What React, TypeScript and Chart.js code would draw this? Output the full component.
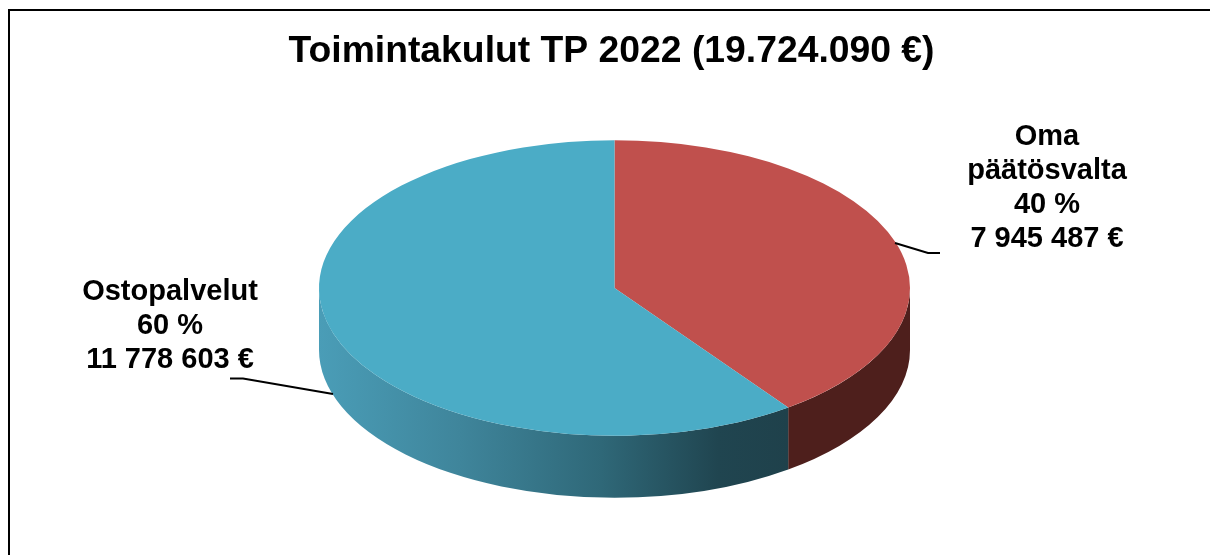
import React, { useEffect, useRef } from "react";
import { Chart, registerables } from "chart.js";

Chart.register(...registerables);

const categories = ["Oma päätösvalta", "Ostopalvelut"];
const percents = [40, 60];
const percentLabels = ["40 %", "60 %"];
const valueLabels = ["7 945 487 €", "11 778 603 €"];
const titleText = "Toimintakulut TP 2022 (19.724.090 €)";
const topColors = ["#C0504D", "#4BACC6"];

const FONT = '"Liberation Sans", Arial, sans-serif';
const CX = 614.5;
const CY = 288;
const RX = 295.5;
const SQUASH = 0.5;
const DEPTH = 62;

const sidesAndFrame = {
  id: "sidesAndFrame",
  beforeDatasetsDraw(chart: any) {
    const { ctx } = chart;
    ctx.save();
    ctx.fillStyle = "#000";
    ctx.fillRect(8, 9, 1202, 2);
    ctx.fillRect(8, 9, 2, 546);
    ctx.restore();

    const arcs = chart.getDatasetMeta(0).data;
    const ry = RX * SQUASH;
    arcs.forEach((arc: any, i: number) => {
      const a = Math.max(arc.startAngle, 0);
      const b = Math.min(arc.endAngle, Math.PI);
      if (b <= a) return;
      ctx.save();
      ctx.beginPath();
      ctx.ellipse(CX, CY, RX, ry, 0, a, b);
      ctx.ellipse(CX, CY + DEPTH, RX, ry, 0, b, a, true);
      ctx.closePath();
      if (i === 1) {
        const g = ctx.createLinearGradient(CX - RX, 0, CX + RX * 0.59, 0);
        g.addColorStop(0, "#4A9DB7");
        g.addColorStop(0.3, "#3F859B");
        g.addColorStop(0.6, "#2F6878");
        g.addColorStop(0.85, "#204550");
        g.addColorStop(1, "#1F414B");
        ctx.fillStyle = g;
      } else {
        ctx.fillStyle = "#4E1F1C";
      }
      ctx.fill();
      ctx.restore();
    });

    ctx.save();
    ctx.translate(CX, CY);
    ctx.scale(1, SQUASH);
    ctx.translate(-arcs[0].x, -arcs[0].y);
  },
  afterDatasetsDraw(chart: any) {
    const { ctx } = chart;
    ctx.restore();

    ctx.save();
    ctx.strokeStyle = "#000";
    ctx.lineWidth = 2;
    ctx.beginPath();
    ctx.moveTo(895, 243);
    ctx.lineTo(928, 253);
    ctx.lineTo(940, 253);
    ctx.moveTo(230, 378.5);
    ctx.lineTo(243, 378.5);
    ctx.lineTo(333, 394);
    ctx.stroke();

    ctx.fillStyle = "#000";
    ctx.font = `bold 29px ${FONT}`;
    ctx.textAlign = "center";
    ctx.textBaseline = "alphabetic";
    const [first, ...rest] = categories[0].split(" ");
    [first, rest.join(" "), percentLabels[0], valueLabels[0]].forEach((t, i) =>
      ctx.fillText(t, 1047, 145 + i * 33.9)
    );
    [categories[1], percentLabels[1], valueLabels[1]].forEach((t, i) =>
      ctx.fillText(t, 170, 300 + i * 33.9)
    );
    ctx.restore();
  },
};

export default function App() {
  const ref = useRef<HTMLCanvasElement>(null);
  useEffect(() => {
    const chart = new Chart(ref.current!, {
      type: "pie",
      data: {
        labels: categories,
        datasets: [
          {
            data: percents,
            backgroundColor: topColors,
            borderWidth: 0,
            radius: RX,
            clip: false,
          } as any,
        ],
      },
      options: {
        responsive: false,
        animation: false,
        layout: { padding: { left: 13, right: 0, top: 0, bottom: 0 } },
        plugins: {
          legend: { display: false },
          tooltip: { enabled: false },
          title: {
            display: true,
            text: titleText,
            fullSize: false,
            color: "#000",
            font: { family: FONT, size: 37.3, weight: "bold" },
            padding: { top: 29, bottom: 10 },
          },
        },
      },
      plugins: [sidesAndFrame],
    });
    return () => chart.destroy();
  }, []);
  return (
    <div style={{ position: "fixed", left: 0, top: 0, width: 1210, height: 555, background: "#fff" }}>
      <canvas ref={ref} width={1210} height={555} style={{ display: "block" }} />
    </div>
  );
}
